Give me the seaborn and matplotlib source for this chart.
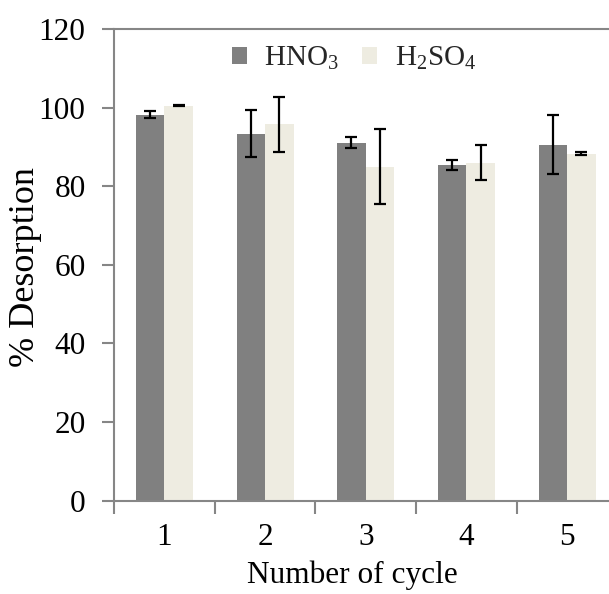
import matplotlib
matplotlib.use("Agg")
import matplotlib.pyplot as plt
import seaborn as sns
import pandas as pd
import numpy as np

cycles = ["1", "2", "3", "4", "5"]
hno3 = [98.2, 93.4, 91.1, 85.4, 90.6]
hno3_err = [0.9, 6.1, 1.5, 1.2, 7.6]
h2so4 = [100.5, 95.7, 85.0, 86.0, 88.3]
h2so4_err = [0.2, 7.1, 9.6, 4.5, 0.45]
series = ["HNO$_\\mathrm{3}$", "H$_\\mathrm{2}$SO$_\\mathrm{4}$"]
colors = ["#808080", "#EEECE1"]
yticks = [0, 20, 40, 60, 80, 100, 120]

sns.set_theme(style="white")
plt.rcParams["font.family"] = ["Liberation Serif", "DejaVu Serif"]
plt.rcParams["mathtext.fontset"] = "custom"
plt.rcParams["mathtext.rm"] = "Liberation Serif"
plt.rcParams["mathtext.it"] = "Liberation Serif:italic"

df = pd.DataFrame({
    "cycle": cycles * 2,
    "value": hno3 + h2so4,
    "series": [series[0]] * 5 + [series[1]] * 5,
})

W, H = 609, 594
fig = plt.figure(figsize=(W / 100, H / 100), dpi=100)
ax_l, ax_r, ax_t, ax_b = 114, 617.5, 29, 500.5
ax = fig.add_axes([ax_l / W, 1 - ax_b / H, (ax_r - ax_l) / W, (ax_b - ax_t) / H])

sns.barplot(data=df, x="cycle", y="value", hue="series", palette=colors,
            width=0.567, errorbar=None, ax=ax, saturation=1, edgecolor="none")

errs = hno3_err + h2so4_err
vals = hno3 + h2so4
patches = [p for p in ax.patches if p.get_height() > 0][:10]
for p, v, e in zip(patches, vals, errs):
    ax.errorbar(p.get_x() + p.get_width() / 2, v, yerr=e, fmt="none",
                ecolor="black", elinewidth=1.6, capsize=4, capthick=1.6, zorder=5)

ax.set_ylim(0, 120)
ax.set_xlim(-0.5, 4.5)
ax.set_yticks(yticks)
ax.set_yticklabels([str(t) for t in yticks])
ax.set_xticks(range(5))
ax.set_xticklabels(cycles)
ax.set_xticks(np.arange(-0.5, 5.0, 1.0), minor=True)
ax.tick_params(axis="x", which="major", length=0, pad=16, labelsize=22.5, colors="black")
ax.tick_params(axis="x", which="minor", length=9, width=1.5, color="#868686", direction="out", bottom=True)
ax.tick_params(axis="y", which="major", length=9, width=1.5, color="#868686", direction="out", left=True,
               pad=11.5, labelsize=22.5, labelcolor="black")

for s in ["left", "bottom", "top"]:
    ax.spines[s].set_color("#868686")
    ax.spines[s].set_linewidth(1.5)
ax.spines["right"].set_visible(False)

aw, ah = ax_r - ax_l, ax_b - ax_t
ax.set_xlabel("Number of cycle", fontsize=22.5, color="black")
ax.xaxis.set_label_coords((352.5 - ax_l) / aw, (ax_b - 561) / ah)
ax.set_ylabel("% Desorption", fontsize=26, color="black")
ax.yaxis.set_label_coords((42 - ax_l) / aw, (ax_b - 267) / ah)

leg = ax.legend(loc="center", bbox_to_anchor=(354 / W, 1 - 58 / H), bbox_transform=fig.transFigure,
                ncol=2, frameon=False, fontsize=21, handlelength=0.52, handleheight=0.52,
                handletextpad=0.6, columnspacing=0.8, title=None)

fig.savefig("out.png", dpi=100)
